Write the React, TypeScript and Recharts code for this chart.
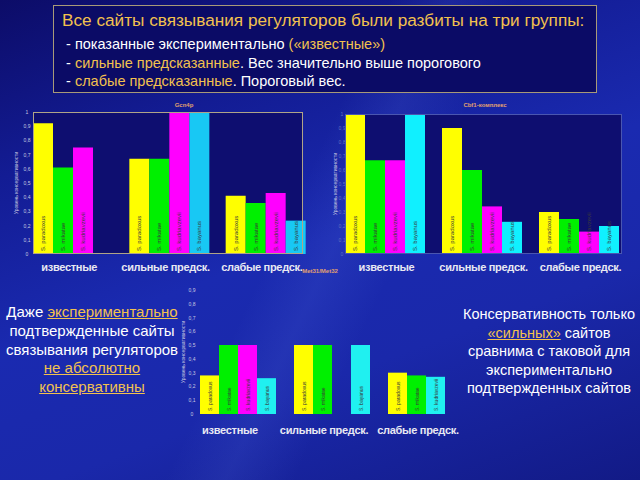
import { BarChart, Bar, XAxis, YAxis, LabelList, Cell } from 'recharts';

const categories = ['известные', 'сильные предск.', 'слабые предск.'];
const species = ['S. paradoxus', 'S. mikatae', 'S. kudriavzevii', 'S. bayanus'];

// Gcn4p
const gcnParadoxus = [0.92, 0.67, 0.41];
const gcnMikatae = [0.61, 0.67, 0.36];
const gcnKudriavzevii = [0.75, 1.0, 0.43];
const gcnBayanus = [null, 1.0, 0.235];

// Cbf1-комплекс
const cbfParadoxus = [1.0, 0.9, 0.3];
const cbfMikatae = [0.67, 0.6, 0.25];
const cbfKudriavzevii = [0.67, 0.34, 0.16];
const cbfBayanus = [1.0, 0.23, 0.2];

// Met31/Met32
const metParadoxus = [0.28, 0.5, 0.3];
const metMikatae = [0.5, 0.5, 0.28];
const metKudriavzevii = [0.5, null, 0.27];
const metBayanus = [0.26, 0.5, null];

const ticksTen = [0, 0.1, 0.2, 0.3, 0.4, 0.5, 0.6, 0.7, 0.8, 0.9, 1];
const ticksNine = [0, 0.1, 0.2, 0.3, 0.4, 0.5, 0.6, 0.7, 0.8, 0.9];

const FONT = 'Arial, "Liberation Sans", sans-serif';
const YELLOW = '#ffff00';
const GREEN = '#00f000';
const MAGENTA = '#ff00ff';
const GOLD = '#f2c14e';

const build = (a: any[], b: any[], c: any[], d: any[]) =>
  categories.map((cat, i) => ({ cat, par: a[i], mik: b[i], kud: c[i], bay: d[i] }));

const gcnData = build(gcnParadoxus, gcnMikatae, gcnKudriavzevii, gcnBayanus);
const cbfData = build(cbfParadoxus, cbfMikatae, cbfKudriavzevii, cbfBayanus);
const metData = build(metParadoxus, metMikatae, metKudriavzevii, metBayanus);

const fmt = (v: number) => (v === 0 ? '0' : v === 1 ? '1' : String(v).replace('.', ','));

const barLabel = (name: string, size: number) => (props: any) => {
  const { x, y, width, height, value } = props;
  if (value == null || !height) return null;
  const cx = x + width / 2;
  const by = y + height - 3;
  return (
    <text
      x={cx}
      y={by}
      transform={`rotate(-90 ${cx} ${by})`}
      textAnchor="start"
      dominantBaseline="central"
      fontSize={size}
      fill="#3a3a3a"
      fontFamily={FONT}
    >
      {name}
    </text>
  );
};

function SpeciesChart(props: any) {
  const {
    data, left, top, width, height, margin, yWidth, xHeight, max, ticks,
    tickX, tickColor, labelX, dx, tickMargin, cyan, labelSize, kudColors,
  } = props;
  const keys = ['par', 'mik', 'kud', 'bay'];
  const colors = [YELLOW, GREEN, MAGENTA, cyan];
  return (
    <div style={{ position: 'absolute', left, top, width, height }}>
      <BarChart
        width={width}
        height={height}
        data={data}
        margin={margin}
        barCategoryGap={9}
        barGap={0}
      >
        <XAxis
          dataKey="cat"
          height={xHeight}
          axisLine={false}
          tickLine={false}
          interval={0}
          tickMargin={tickMargin}
          tick={(p: any) => (
            <text
              x={p.x + dx}
              y={p.y}
              dy="0.75em"
              textAnchor="middle"
              fontSize={11}
              fontWeight="bold"
              letterSpacing={-0.3}
              fill="#e8e8f2"
              fontFamily={FONT}
            >
              {p.payload.value}
            </text>
          )}
        />
        <YAxis
          type="number"
          domain={[0, max]}
          ticks={ticks}
          interval={0}
          width={yWidth}
          axisLine={false}
          tickLine={false}
          tick={(p: any) => (
            <text
              x={tickX}
              y={p.y}
              textAnchor="middle"
              dominantBaseline="central"
              fontSize={5}
              fill={tickColor}
              fontFamily={FONT}
            >
              {fmt(p.payload.value)}
            </text>
          )}
          label={{
            content: (lp: any) => {
              const vb = lp.viewBox || {};
              const cy = vb.y + vb.height / 2;
              return (
                <text
                  x={labelX}
                  y={cy}
                  transform={`rotate(-90 ${labelX} ${cy})`}
                  textAnchor="middle"
                  dominantBaseline="central"
                  fontSize={5}
                  fill="#c8c8e0"
                  fontFamily={FONT}
                >
                  Уровень консервативности
                </text>
              );
            },
          }}
        />
        {keys.map((k, i) => (
          <Bar key={k} dataKey={k} fill={colors[i]} isAnimationActive={false}>
            {k === 'kud' && kudColors
              ? data.map((_: any, j: number) => <Cell key={j} fill={kudColors[j]} />)
              : null}
            <LabelList dataKey={k} content={barLabel(species[i], labelSize)} />
          </Bar>
        ))}
      </BarChart>
    </div>
  );
}

const abs = (left: number, top: number, extra: any = {}) => ({
  position: 'absolute' as const,
  left,
  top,
  ...extra,
});

const gold = { color: GOLD };
const goldU = { color: GOLD, textDecoration: 'underline' };

export default function App() {
  return (
    <div
      style={{
        position: 'absolute',
        left: 0,
        top: 0,
        width: 640,
        height: 480,
        overflow: 'hidden',
        fontFamily: FONT,
        background:
          'linear-gradient(160deg, #0c0c68 0%, #131c94 25%, #1a2ab0 50%, #1a28aa 70%, #121a86 100%)',
      }}
    >
      <div
        style={{
          position: 'absolute',
          inset: 0,
          background:
            'linear-gradient(115deg, rgba(255,255,255,0) 45%, rgba(120,150,255,0.10) 52%, rgba(255,255,255,0) 60%)',
        }}
      />

      {/* header box */}
      <div
        style={abs(53, 5, {
          width: 542,
          height: 86,
          border: '1px solid #a89a78',
          background: '#0b0b66',
        })}
      />
      <div style={abs(62, 10, { fontSize: 17.2, color: GOLD, whiteSpace: 'nowrap' })}>
        Все сайты связывания регуляторов были разбиты на три группы:
      </div>
      <div style={abs(62, 35, { fontSize: 14.5, color: '#ffffff', lineHeight: '18.5px', whiteSpace: 'nowrap' })}>
        <div>
          &nbsp;- показанные экспериментально <span style={gold}>(«известные»)</span>
        </div>
        <div>
          &nbsp;- <span style={gold}>сильные предсказанные</span>. Вес значительно выше порогового
        </div>
        <div>
          &nbsp;- <span style={gold}>слабые предсказанные</span>. Пороговый вес.
        </div>
      </div>

      {/* plot backgrounds */}
      <div style={abs(33, 112, { width: 270, height: 142, background: '#0e0e70' })} />
      <div style={abs(345, 114, { width: 277, height: 140, background: '#0e0e70' })} />

      <SpeciesChart
        data={gcnData}
        left={0}
        top={100}
        width={330}
        height={175}
        margin={{ top: 12, right: 17, bottom: 1, left: 8 }}
        yWidth={16}
        xHeight={20}
        max={1}
        ticks={ticksTen}
        tickX={27}
        tickColor="#c8c8e0"
        labelX={16}
        dx={-3}
        tickMargin={3}
        cyan="#18c8f4"
        labelSize={6}
      />
      <SpeciesChart
        data={cbfData}
        left={320}
        top={100}
        width={320}
        height={175}
        margin={{ top: 14, right: 13, bottom: 1, left: 2 }}
        yWidth={14}
        xHeight={20}
        max={1}
        ticks={ticksTen}
        tickX={22}
        tickColor="#6070c0"
        labelX={15}
        dx={2}
        tickMargin={3}
        cyan="#10f0ff"
        labelSize={6}
      />
      <SpeciesChart
        data={metData}
        left={170}
        top={280}
        width={310}
        height={165}
        margin={{ top: 10, right: 7, bottom: 6, left: 5 }}
        yWidth={16}
        xHeight={25}
        max={0.9}
        ticks={ticksNine}
        tickX={22}
        tickColor="#c8c8e0"
        labelX={13}
        dx={-8}
        tickMargin={6}
        cyan="#20f0f0"
        labelSize={5}
        kudColors={[MAGENTA, MAGENTA, '#20f0f0']}
      />

      {/* plot borders */}
      <div style={abs(33, 112, { width: 270, height: 142, border: '1px solid #b0a487', boxSizing: 'border-box' })} />
      <div style={abs(345, 114, { width: 277, height: 140, border: '1px solid #4a56b0', boxSizing: 'border-box' })} />

      {/* chart titles */}
      <div style={abs(164, 102, { width: 40, textAlign: 'center', fontSize: 6, fontWeight: 'bold', color: '#e0a070' })}>
        Gcn4p
      </div>
      <div style={abs(445, 102, { width: 80, textAlign: 'center', fontSize: 6, fontWeight: 'bold', color: '#e0a070' })}>
        Cbf1-комплекс
      </div>
      <div style={abs(300, 268, { width: 40, textAlign: 'center', fontSize: 6, fontWeight: 'bold', color: '#e0a070' })}>
        Met31/Met32
      </div>

      {/* side notes */}
      <div
        style={abs(0, 303, {
          width: 184,
          textAlign: 'center',
          fontSize: 15,
          lineHeight: '18.8px',
          color: '#ffffff',
        })}
      >
        Даже <span style={goldU}>экспериментально</span>
        <br />
        подтвержденные сайты
        <br />
        связывания регуляторов
        <br />
        <span style={goldU}>не абсолютно</span>
        <br />
        <span style={goldU}>консервативны</span>
      </div>
      <div
        style={abs(458, 305, {
          width: 182,
          textAlign: 'center',
          fontSize: 14.5,
          lineHeight: '18.5px',
          color: '#ffffff',
        })}
      >
        Консервативность только
        <br />
        <span style={goldU}>«сильных»</span> сайтов
        <br />
        сравнима с таковой для
        <br />
        экспериментально
        <br />
        подтвержденных сайтов
      </div>
    </div>
  );
}
